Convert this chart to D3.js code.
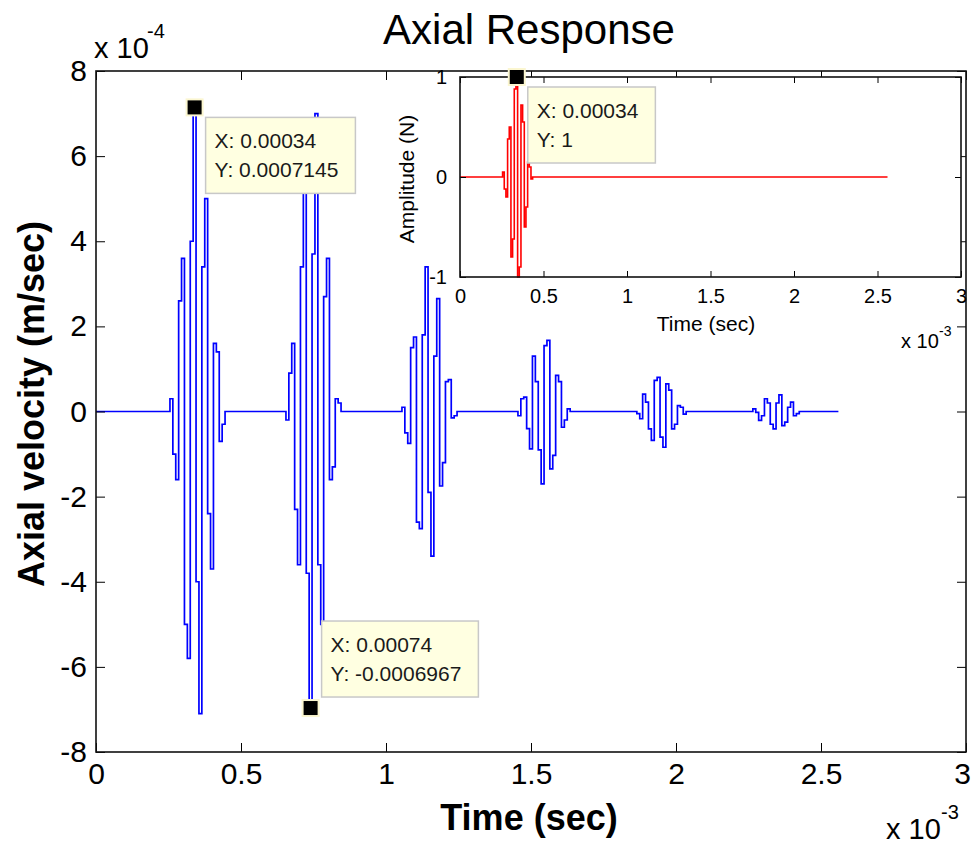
<!DOCTYPE html>
<html><head><meta charset="utf-8">
<script src="https://cdn.jsdelivr.net/npm/d3@7"></script>
<style>
body{margin:0;background:#fff;}
svg{display:block;font-family:"Liberation Sans",Arial,Helvetica,sans-serif;}
</style>
</head><body>
<svg id="chart" width="972" height="846"></svg>
<script>
// ---------------- data ----------------
const timeStep = 1e-5;            // s, sampling interval
const sampleCount = 257;          // samples 0 … 2.56e-3 s
// axial velocity, in units of 1e-4 m/sec, for each echo packet (21 samples each)
const packetStart = [25, 65, 105, 145, 185, 225];
const packet1 = [0, 0.3, -1.0, -1.6, 2.6, 3.6, -5.0, -5.8, 4.0, 7.145, -4.0, -7.1, 3.4, 5.0, -2.4, -3.7, 1.6, 1.4, -0.7, -0.3, 0];
const packet2 = [0, -0.2, 0.9, 1.6, -2.3, -3.6, 3.4, 5.2, -3.8, -6.967, 3.7, 7.0, -3.6, -5.0, 2.7, 3.6, -1.6, -1.3, 0.3, 0.2, 0];
const packet3 = [0, 0.1, -0.5, -0.75, 1.5, 1.75, -2.6, -2.75, 1.8, 3.4, -1.9, -3.4, 1.3, 2.65, -1.75, -1.2, 0.7, 0.75, -0.15, -0.1, 0];
const packet4 = [0, -0.1, 0.3, 0.34, -0.4, -0.88, 1.3, 0.7, -0.9, -1.7, 1.55, 1.67, -1.35, -1.03, 0.85, 0.7, -0.37, -0.2, 0.06, 0, 0];
const packet5 = [0, 0, -0.05, -0.17, 0.41, 0.22, -0.41, -0.68, 0.73, 0.8, -0.6, -0.84, 0.65, 0.5, -0.41, -0.3, 0.14, 0.1, -0.06, 0, 0];
const packet6 = [0, 0, 0.06, -0.02, -0.21, -0.1, 0.3, 0.2, -0.3, -0.41, 0.2, 0.39, -0.33, -0.25, 0.1, 0.22, -0.1, -0.05, 0, 0, 0];
// input force amplitude (N)
const forceStart = 25;
const forceValues = [0, 0.05, -0.12, -0.2, 0.38, 0.5, -0.8, -0.62, 0.88, 1.0, -1.0, -0.9, 0.72, 0.55, -0.5, -0.3, 0.15, 0.1, -0.02, 0, 0];

const xTickValues = [0, 0.5e-3, 1e-3, 1.5e-3, 2e-3, 2.5e-3, 3e-3];
const yTickMain = [-8, -6, -4, -2, 0, 2, 4, 6, 8];
const yTickInset = [-1, 0, 1];

// data tips
const tipMainX = [0.00034, 0.00074];
const tipMainY = [7.145, -6.967];          // 1e-4 m/sec
const tipMainText = [["X: 0.00034", "Y: 0.0007145"], ["X: 0.00074", "Y: -0.0006967"]];
const tipInsetX = [0.00034];
const tipInsetY = [1];
const tipInsetText = [["X: 0.00034", "Y: 1"]];

// ---------------- build series ----------------
const velocity = d3.range(sampleCount).map(k => ({t: k * timeStep, v: 0}));
[packet1, packet2, packet3, packet4, packet5, packet6].forEach((vals, i) => {
  vals.forEach((v, j) => { velocity[packetStart[i] + j].v = v; });
});
const force = d3.range(sampleCount).map(k => ({t: k * timeStep, v: 0}));
forceValues.forEach((v, j) => { force[forceStart + j].v = v; });

// ---------------- drawing ----------------
const svg = d3.select("#chart");
svg.append("rect").attr("width", 972).attr("height", 846).attr("fill", "#fff");

const M = {left: 96, right: 966, top: 71, bottom: 752};
const x = d3.scaleLinear().domain([0, 3e-3]).range([M.left, M.right]);
const y = d3.scaleLinear().domain([-8, 8]).range([M.bottom, M.top]);

const fmtX = d => String(+(d * 1e3).toFixed(2));

function styleAxis(g, size) {
  g.attr("font-family", null).attr("font-size", null);
  g.select(".domain").remove();
  g.selectAll(".tick line").attr("stroke", "#000").attr("stroke-width", 1);
  g.selectAll(".tick text").attr("fill", "#000").style("font-size", size + "px");
}

const main = svg.append("g");
main.append("rect").attr("x", M.left).attr("y", M.top)
  .attr("width", M.right - M.left).attr("height", M.bottom - M.top).attr("fill", "#fff");

main.append("path").datum(velocity)
  .attr("fill", "none").attr("stroke", "#0000ff").attr("stroke-width", 1.7)
  .attr("d", d3.line().curve(d3.curveStep).x(d => x(d.t)).y(d => y(d.v)));

main.append("g").attr("transform", `translate(0,${M.bottom})`)
  .call(d3.axisBottom(x).tickValues(xTickValues).tickSizeInner(-9).tickSizeOuter(0).tickPadding(11).tickFormat(fmtX))
  .call(g => styleAxis(g, 30))
  .call(g => g.selectAll(".tick text").filter(d => d === 3e-3).attr("dx", -4));
main.append("g").attr("transform", `translate(0,${M.top})`)
  .call(d3.axisTop(x).tickValues(xTickValues).tickSizeInner(-9).tickSizeOuter(0).tickFormat(""))
  .call(g => styleAxis(g, 30));
main.append("g").attr("transform", `translate(${M.left},0)`)
  .call(d3.axisLeft(y).tickValues(yTickMain).tickSizeInner(-9).tickSizeOuter(0).tickPadding(9).tickFormat(d => String(d)))
  .call(g => styleAxis(g, 30));
main.append("g").attr("transform", `translate(${M.right},0)`)
  .call(d3.axisRight(y).tickValues(yTickMain).tickSizeInner(-9).tickSizeOuter(0).tickFormat(""))
  .call(g => styleAxis(g, 30));
main.append("rect").attr("x", M.left).attr("y", M.top)
  .attr("width", M.right - M.left).attr("height", M.bottom - M.top)
  .attr("fill", "none").attr("stroke", "#111").attr("stroke-width", 1.6);

// exponent labels
function expLabel(parent, px, py, base, exp, fs, efs, dxExp, dyExp) {
  parent.append("text").attr("x", px).attr("y", py).attr("fill", "#000").style("font-size", fs + "px").text(base);
  parent.append("text").attr("x", px + dxExp).attr("y", py - dyExp).attr("fill", "#000").style("font-size", efs + "px").text(exp);
}
expLabel(main, 94, 58, "x 10", "-4", 29, 20, 53, 20);
expLabel(main, 886, 839, "x 10", "-3", 29, 20, 55, 20);

// data tip drawing
function dataTip(parent, mx, my, lines, below) {
  const g = parent.append("g");
  const boxX = mx + 11;
  const boxH = 76;
  const boxY = below ? my + 10 : my - 11 - boxH;
  const box = g.append("rect").attr("x", boxX).attr("y", boxY).attr("height", boxH)
    .attr("fill", "#ffffe1").attr("stroke", "#c8c8c8").attr("stroke-width", 1.5);
  let w = 0;
  lines.forEach((s, i) => {
    const t = g.append("text").attr("x", boxX + 9).attr("y", boxY + 31 + i * 29)
      .attr("fill", "#1a1a1a").style("font-size", "21px").text(s);
    w = Math.max(w, t.node().getComputedTextLength());
  });
  box.attr("width", w + 26);
  g.append("rect").attr("x", mx - 9).attr("y", my - 9).attr("width", 18).attr("height", 18).attr("fill", "#fbf6d0");
  g.append("rect").attr("x", mx - 7).attr("y", my - 7).attr("width", 14).attr("height", 14).attr("fill", "#000");
}
tipMainX.forEach((tx, i) => dataTip(main, x(tx), y(tipMainY[i]), tipMainText[i], tipMainY[i] > 0));

// titles
svg.append("text").attr("x", 529).attr("y", 44).attr("text-anchor", "middle")
  .attr("fill", "#000").style("font-size", "42px").text("Axial Response");
svg.append("text").attr("x", 529).attr("y", 830).attr("text-anchor", "middle")
  .attr("fill", "#000").style("font-size", "36px").style("font-weight", "bold").text("Time (sec)");
svg.append("text").attr("transform", "translate(44,404) rotate(-90)").attr("text-anchor", "middle")
  .attr("fill", "#000").style("font-size", "36px").style("font-weight", "bold").text("Axial velocity (m/sec)");

// ---------------- inset ----------------
const I = {left: 460, right: 961, top: 77, bottom: 277};
const xi = d3.scaleLinear().domain([0, 3e-3]).range([I.left, I.right]);
const yi = d3.scaleLinear().domain([-1, 1]).range([I.bottom, I.top]);
const inset = svg.append("g");
inset.append("rect").attr("x", I.left).attr("y", I.top)
  .attr("width", I.right - I.left).attr("height", I.bottom - I.top).attr("fill", "#fff");
inset.append("path").datum(force)
  .attr("fill", "none").attr("stroke", "#ff0000").attr("stroke-width", 1.6)
  .attr("d", d3.line().curve(d3.curveStep).x(d => xi(d.t)).y(d => yi(d.v)));
inset.append("g").attr("transform", `translate(0,${I.bottom})`)
  .call(d3.axisBottom(xi).tickValues(xTickValues).tickSizeInner(-6).tickSizeOuter(0).tickPadding(12).tickFormat(fmtX))
  .call(g => styleAxis(g, 20));
inset.append("g").attr("transform", `translate(0,${I.top})`)
  .call(d3.axisTop(xi).tickValues(xTickValues).tickSizeInner(-6).tickSizeOuter(0).tickFormat(""))
  .call(g => styleAxis(g, 20));
inset.append("g").attr("transform", `translate(${I.left},0)`)
  .call(d3.axisLeft(yi).tickValues(yTickInset).tickSizeInner(-6).tickSizeOuter(0).tickPadding(13).tickFormat(d => String(d)))
  .call(g => styleAxis(g, 20));
inset.append("g").attr("transform", `translate(${I.right},0)`)
  .call(d3.axisRight(yi).tickValues(yTickInset).tickSizeInner(-6).tickSizeOuter(0).tickFormat(""))
  .call(g => styleAxis(g, 20));
inset.append("rect").attr("x", I.left).attr("y", I.top)
  .attr("width", I.right - I.left).attr("height", I.bottom - I.top)
  .attr("fill", "none").attr("stroke", "#111").attr("stroke-width", 1.6);
inset.append("text").attr("x", 706).attr("y", 331).attr("text-anchor", "middle")
  .attr("fill", "#000").style("font-size", "21px").text("Time (sec)");
inset.append("text").attr("transform", "translate(414,179) rotate(-90)").attr("text-anchor", "middle")
  .attr("fill", "#000").style("font-size", "21px").text("Amplitude (N)");
expLabel(inset, 901, 348, "x 10", "-3", 20, 14, 38, 12);
tipInsetX.forEach((tx, i) => dataTip(inset, xi(tx), yi(tipInsetY[i]), tipInsetText[i], true));
</script>
</body></html>
